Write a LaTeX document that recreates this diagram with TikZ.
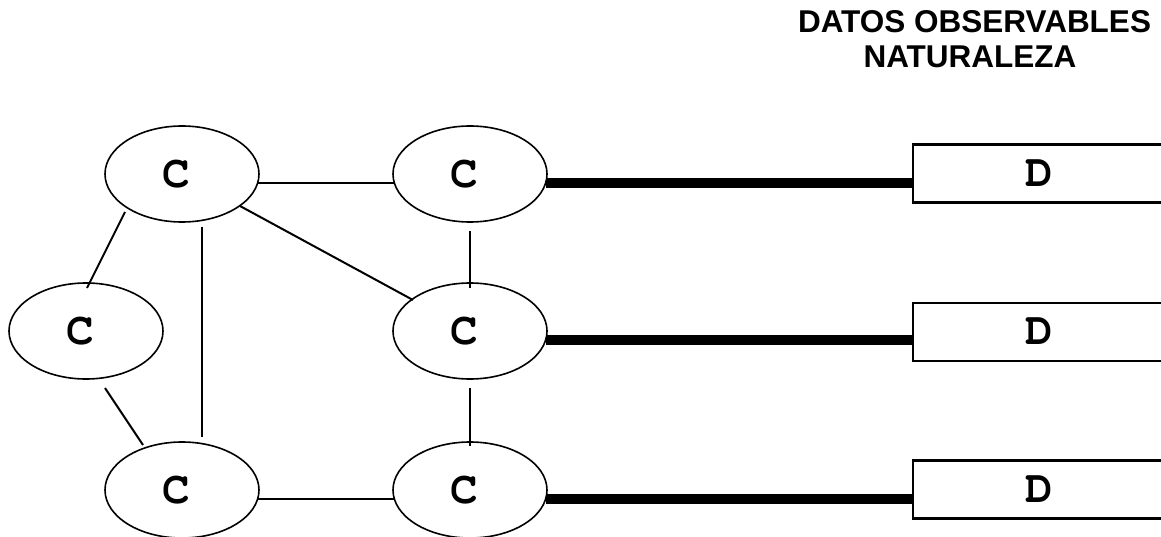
\documentclass[tikz,border=0pt]{standalone}
\usepackage[T1]{fontenc}
\usepackage{fontspec}
\setmainfont{Liberation Sans}
\newcommand\courierbold{\fontencoding{T1}\fontfamily{pcr}\fontseries{b}\fontshape{n}\fontsize{46}{46}\selectfont}
\usetikzlibrary{shapes.geometric,calc}

\tikzset{
  concept/.style={ellipse, draw, line width=1.6pt, minimum width=154pt,
    minimum height=96pt, inner sep=0pt, font=\courierbold,
    execute at begin node={\hspace*{-12pt}}},
  databox/.style={rectangle, draw, line width=2.4pt, minimum width=253pt,
    minimum height=58pt, inner sep=0pt, anchor=west, font=\courierbold},
  link/.style={line width=2pt},
  heavy/.style={line width=10pt},
  heading/.style={anchor=base, inner sep=0pt, font=\fontsize{31.5}{31.5}\selectfont\bfseries}
}

\begin{document}
\begin{tikzpicture}[x=1pt, y=-1pt]
  \useasboundingbox (0,0) rectangle (1161,537);
  \clip (0,0) rectangle (1161,537);

  % heading
  \node[heading] (title1) at (974.5,33) {DATOS OBSERVABLES};
  \node[heading] (title2) at (970,68) {NATURALEZA};

  % concept nodes
  \node[concept] (c1) at (182,174) {C};
  \node[concept] (c2) at (470,174) {C};
  \node[concept] (c3) at (86,331) {C};
  \node[concept] (c4) at (470,331) {C};
  \node[concept] (c5) at (182,490) {C};
  \node[concept] (c6) at (470,490) {C};

  % data boxes
  \node[databox] (d1) at (912,173.5) {D};
  \node[databox] (d2) at (912,332) {D};
  \node[databox] (d3) at (912,489.5) {D};

  % links between concepts
  \draw[link] (c1.-7.2) -- (c2.187.2);
  \draw[link] ($(c1)+(-57,38)$) -- ($(c3)+(1,-43)$);
  \draw[link] ($(c1)+(58,32)$) -- ($(c4)+(-57,-31)$);
  \draw[link] ($(c1)+(20,53)$) -- ($(c5)+(20,-53)$);
  \draw[link] ($(c2)+(0,57)$) -- ($(c4)+(0,-43)$);
  \draw[link] ($(c4)+(0,57)$) -- ($(c6)+(0,-44)$);
  \draw[link] ($(c3)+(19,57)$) -- ($(c5)+(-39,-45)$);
  \draw[link] (c5.-7.2) -- (c6.187.2);

  % concepts tied to observable data
  \draw[heavy] (c2.-7.5) -- (d1.west |- c2.-7.5);
  \draw[heavy] (c4.-7.5) -- (d2.west |- c4.-7.5);
  \draw[heavy] (c6.-7.5) -- (d3.west |- c6.-7.5);
\end{tikzpicture}
\end{document}
